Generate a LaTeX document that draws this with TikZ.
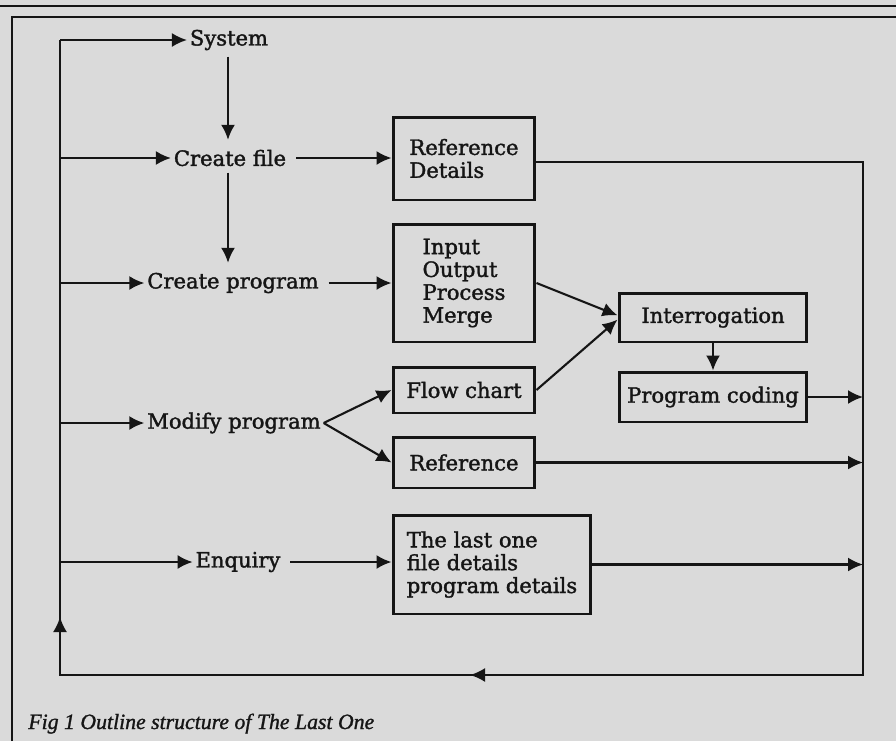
\documentclass[tikz,border=0pt]{standalone}
\usepackage{fontspec}
\setmainfont{DejaVu Serif}
\newfontfamily\boxfont{DejaVu Serif}[FakeBold=1.6]
\newfontfamily\capfont{Liberation Serif}[FakeBold=1.2]
\usepackage{xcolor}
\usetikzlibrary{positioning,arrows.meta,calc}
\definecolor{pagegrey}{HTML}{DADADA}
\definecolor{inkblack}{HTML}{151515}

\begin{document}
\begin{tikzpicture}[
  x=0.02cm,y=-0.02cm,
  every node/.style={font=\boxfont\fontsize{12}{13}\selectfont,text=inkblack},
  lbl/.style={inner sep=1.5pt},
  box/.style={draw=inkblack,line width=1.7pt,align=left,inner sep=0pt,minimum width=2.84cm},
  link/.style={draw=inkblack,line width=1.2pt},
  flow/.style={link,-{Latex[length=3mm,width=2.8mm]}}
]
% page and frame
\fill[pagegrey] (0,0) rectangle (896,741);
\useasboundingbox (0,0) rectangle (896,741);
\draw[inkblack,line width=0.8pt] (0,6) -- (896,6);
\draw[inkblack,line width=1.1pt] (12,741) -- (12,17) -- (896,17);

% activities
\node[lbl] (sys) at (229,40) {System};
\node[lbl] (cfile) at (230,158) {Create file};
\node[lbl] (cprog) at (233,283) {Create program};
\node[lbl] (modp) at (234,423) {Modify program};
\node[lbl] (enq) at (238,562) {Enquiry};

% boxes
\node[box,minimum height=1.66cm] (refdet) at (464,158.5) {Reference\\Details};
\node[box,minimum height=2.36cm] (iopm) at (464,283) {Input\\Output\\Process\\Merge};
\node[box,minimum height=0.92cm] (flowc) at (464,390) {Flow chart};
\node[box,minimum height=1.02cm] (ref) at (464,462.5) {Reference};
\node[box,minimum width=3.96cm,minimum height=1.98cm] (last) at (492,564.5) {The last one\\file details\\program details};
\node[box,minimum width=3.76cm,minimum height=0.98cm] (interr) at (713,317.5) {Interrogation};
\node[box,minimum width=3.76cm,minimum height=1.0cm] (pcode) at (713,397) {Program coding};

% loop round
\coordinate (bt) at (60,40);
\coordinate (bb) at (60,675);
\coordinate (rb) at (863,675);
\coordinate (rt) at (863,162);
\coordinate (bm) at (470,675);
\coordinate (lm) at (60,617);
\coordinate (dn) at (228,0);
\draw[link] (refdet.east |- rt) -- (rt) -- (rb) -- (bb) -- (bt);
\draw[flow] (rb) -- (bm);
\draw[flow] (bb) -- (lm);

\foreach \n in {sys,cfile,cprog,modp,enq}
  \draw[flow] (\n.west -| bt) -- (\n.west);
\foreach \n in {pcode,ref,last}
  \draw[flow] (\n.east) -- (\n.east -| rt);

\draw[flow] ([yshift=-2pt]sys.south -| dn) -- ([yshift=4pt]cfile.north -| dn);
\draw[flow] ([yshift=-2pt]cfile.south -| dn) -- ([yshift=4pt]cprog.north -| dn);
\draw[flow] ([xshift=4pt]cfile.east) -- (refdet.west |- cfile);
\draw[flow] ([xshift=4pt]cprog.east) -- (iopm.west |- cprog);
\draw[flow] (modp.east) -- (flowc.west);
\draw[flow] (modp.east) -- (ref.west);
\draw[flow] ([xshift=4pt]enq.east) -- (last.west |- enq);
\draw[flow] (iopm.east) -- ([yshift=1.2pt]interr.west);
\draw[flow] (flowc.east) -- ([yshift=-1.2pt]interr.west);
\draw[flow] (interr.south) -- (pcode.north);

% caption
\node[anchor=base west,inner sep=0pt,font=\capfont\itshape\fontsize{12.4}{14}\selectfont] (cap) at (28,729) {Fig 1 Outline structure of The Last One};
\end{tikzpicture}
\end{document}
